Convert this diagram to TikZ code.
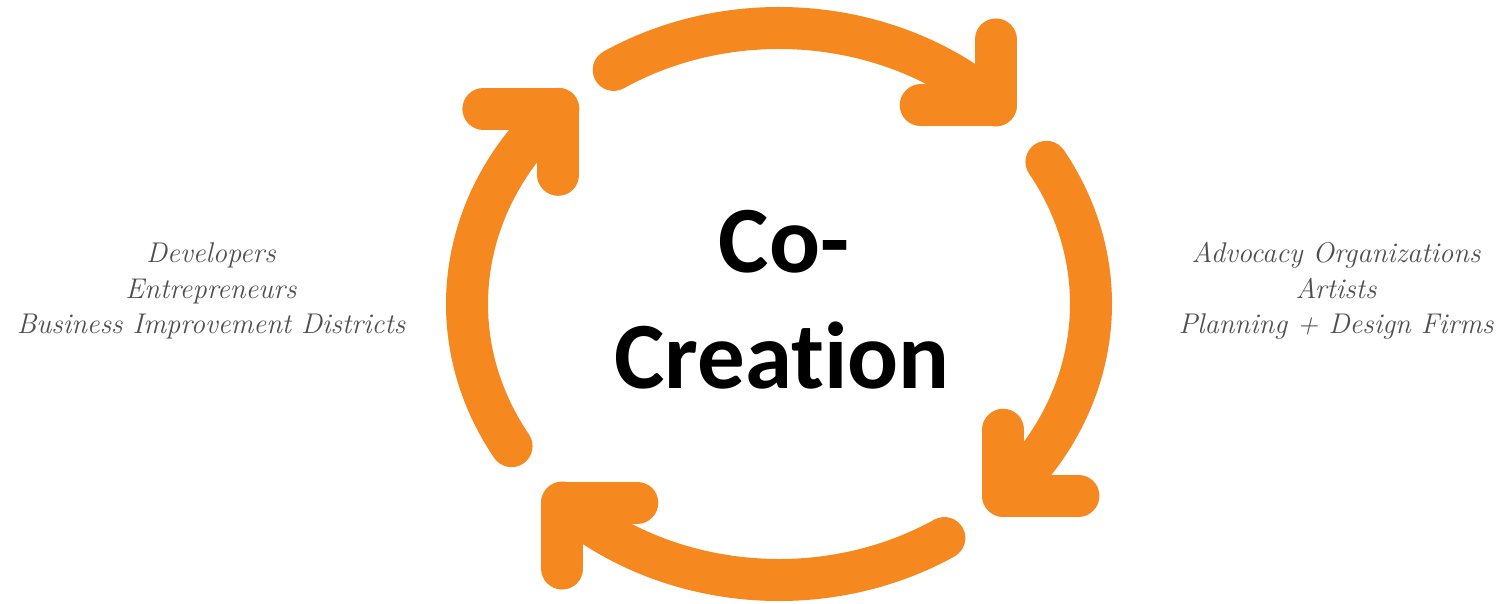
\documentclass[tikz,border=0pt]{standalone}
\usepackage{fontspec}
\usepackage{tikz}
\usetikzlibrary{calc}
\newfontfamily\cofont[Ligatures=NoCommon]{Carlito}
\definecolor{cycorange}{RGB}{245,137,32}
\definecolor{sidegray}{RGB}{78,78,78}

\begin{document}
\begin{tikzpicture}[x=1pt,y=-1pt,
    cyc/.style={cycorange,line width=42pt,line cap=round,line join=round},
    side/.style={anchor=base,text=sidegray,font=\fontsize{28.5}{34}\selectfont\itshape},
    big/.style={anchor=base,font=\fontsize{95}{116}\cofont\bfseries\selectfont}]
  \useasboundingbox (0,0) rectangle (1509,604);
  \coordinate (ctr) at (779,304);
  % the four arcs
  \draw[cyc] ([shift={(-122:312 and 276)}]ctr) arc[start angle=-122,end angle=-46,x radius=312,y radius=276] coordinate (tr);
  \draw[cyc] ([shift={(-31:312 and 276)}]ctr) arc[start angle=-31,end angle=44,x radius=312,y radius=276] coordinate (br);
  \draw[cyc] ([shift={(58:312 and 276)}]ctr) arc[start angle=58,end angle=134,x radius=312,y radius=276] coordinate (bl);
  \draw[cyc] ([shift={(149:312 and 276)}]ctr) arc[start angle=149,end angle=225,x radius=312,y radius=276] coordinate (tl);
  % heads
  \draw[cyc] (tr) ++(-75,0) -- (tr) -- ++(0,-66);
  \draw[cyc] (br) ++(75,0) -- (br) -- ++(0,-66);
  \draw[cyc] (bl) ++(75,0) -- (bl) -- ++(0,66);
  \draw[cyc] (tl) ++(-75,0) -- (tl) -- ++(0,66);

  \node[big] (co) at (784,272) {Co-};
  \node[big] (creation) at (782,388) {Creation};

  \node[side] (dev) at (211,262) {Developers};
  \node[side] (entre) at (211,298) {Entrepreneurs};
  \node[side] (bid) at (211,333) {Business Improvement Districts};
  \node[side] (advo) at (1336,262) {Advocacy Organizations};
  \node[side] (artists) at (1336,298) {Artists};
  \node[side] (firms) at (1336,333) {Planning + Design Firms};
\end{tikzpicture}
\end{document}
